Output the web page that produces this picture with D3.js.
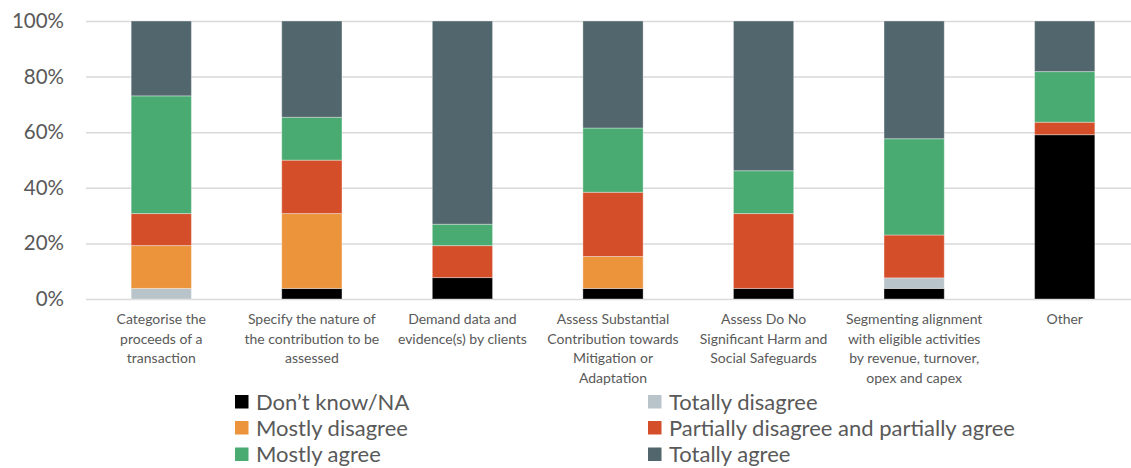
<!DOCTYPE html>
<html>
<head>
<meta charset="utf-8">
<script src="https://cdn.jsdelivr.net/npm/d3@7"></script>
<style>
  html, body { margin: 0; padding: 0; background: #fff; }
  svg { display: block; }
  text { font-family: Lato, "Open Sans", sans-serif; fill: #595959; }
</style>
</head>
<body>
<svg id="chart" width="1131" height="468"></svg>
<script>
// ---- Data ----
const categories = [
  "Categorise the\nproceeds of a\ntransaction",
  "Specify the nature of\nthe contribution to be\nassessed",
  "Demand data and\nevidence(s) by clients",
  "Assess Substantial\nContribution towards\nMitigation or\nAdaptation",
  "Assess Do No\nSignificant Harm and\nSocial Safeguards",
  "Segmenting alignment\nwith eligible activities\nby revenue, turnover,\nopex and capex",
  "Other"
];
const seriesNames = [
  "Don\u2019t know/NA",
  "Totally disagree",
  "Mostly disagree",
  "Partially disagree and partially agree",
  "Mostly agree",
  "Totally agree"
];
const dontKnow        = [0,    3.8,  7.7,  3.8,  3.8,  3.8,  59.1];
const totallyDisagree = [3.8,  0,    0,    0,    0,    3.8,  0];
const mostlyDisagree  = [15.4, 26.9, 0,    11.5, 0,    0,    0];
const partially       = [11.5, 19.2, 11.5, 23.1, 26.9, 15.4, 4.5];
const mostlyAgree     = [42.3, 15.4, 7.7,  23.1, 15.4, 34.6, 18.2];
const totallyAgree    = [26.9, 34.6, 73.1, 38.5, 53.8, 42.3, 18.2];
const yTicks = [0, 0.2, 0.4, 0.6, 0.8, 1.0];
const colors = ["#000000", "#b8c4c9", "#eb943c", "#d44e2a", "#4aab72", "#51666d"];

// ---- Build table ----
const seriesValues = [dontKnow, totallyDisagree, mostlyDisagree, partially, mostlyAgree, totallyAgree];
const table = categories.map((c, i) => {
  const row = { category: c };
  seriesNames.forEach((s, j) => row[s] = seriesValues[j][i]);
  return row;
});

const svg = d3.select("#chart");
const W = 1131;
const plotLeft = 86, plotRight = 1140, plotTop = 21, plotBottom = 299;

const x = d3.scaleBand().domain(categories).range([plotLeft, plotRight])
  .paddingInner(0.6).paddingOuter(0.3);
const y = d3.scaleLinear().domain([0, 1]).range([plotBottom, plotTop]);

// gridlines + y labels
const yAxis = d3.axisLeft(y).tickValues(yTicks).tickFormat(d3.format(".0%"))
  .tickSizeInner(-(W - plotLeft)).tickSizeOuter(0).tickPadding(22);
const gy = svg.append("g").attr("transform", `translate(${plotLeft},0)`).call(yAxis);
gy.select(".domain").remove();
gy.selectAll(".tick line").attr("stroke", "#d9d9d9").attr("stroke-width", 1.5);
gy.selectAll(".tick text").style("font-size", "20.5px").style("font-family", "Lato, sans-serif").attr("fill", "#595959");

// stacked bars
const stack = d3.stack().keys(seriesNames).offset(d3.stackOffsetExpand);
const layers = stack(table);
svg.append("g").selectAll("g").data(layers).join("g")
  .attr("fill", (d, i) => colors[i])
  .selectAll("rect").data(d => d.filter(p => p[1] - p[0] > 0)).join("rect")
  .attr("x", d => x(d.data.category))
  .attr("width", x.bandwidth())
  .attr("y", d => y(d[1]))
  .attr("height", d => y(d[0]) - y(d[1]))
  .attr("stroke", "rgba(255,255,255,0.35)")
  .attr("stroke-width", 1);

// x labels
const gx = svg.append("g");
categories.forEach(c => {
  const lines = c.split("\n");
  const t = gx.append("text")
    .attr("x", x(c) + x.bandwidth() / 2)
    .attr("y", 324)
    .attr("text-anchor", "middle")
    .style("font-size", "14px");
  lines.forEach((l, k) => {
    t.append("tspan").attr("x", x(c) + x.bandwidth() / 2).attr("dy", k === 0 ? 0 : 19.5).text(l);
  });
});

// legend
const legendPos = [
  [235, 395], [648, 395],
  [235, 421], [648, 421],
  [235, 447.5], [648, 447.5]
];
const lg = svg.append("g");
seriesNames.forEach((s, i) => {
  const [lx, ly] = legendPos[i];
  lg.append("rect").attr("x", lx).attr("y", ly).attr("width", 13.5).attr("height", 13.5).attr("fill", colors[i]);
  lg.append("text").attr("x", lx + 21).attr("y", ly + 14.5).style("font-size", "22px").text(s);
});
</script>
</body>
</html>
